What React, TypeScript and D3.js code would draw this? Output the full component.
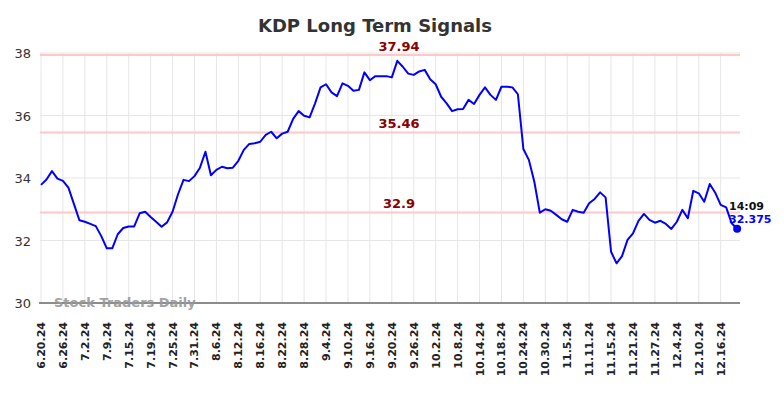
import React from "react";
import * as d3 from "d3";

// closing prices, one per trading day from 6.20.24
const prices = [
  33.78, 33.95, 34.22, 33.98, 33.91, 33.69, 33.17, 32.65, 32.6, 32.53,
  32.46, 32.14, 31.75, 31.75, 32.2, 32.4, 32.45, 32.45, 32.87, 32.92,
  32.75, 32.6, 32.44, 32.58, 32.92, 33.48, 33.94, 33.9, 34.06, 34.33,
  34.84, 34.09, 34.26, 34.36, 34.31, 34.33, 34.55, 34.9, 35.09, 35.11,
  35.16, 35.38, 35.48, 35.27, 35.42, 35.48, 35.89, 36.14, 35.99, 35.94,
  36.39, 36.9, 37.0, 36.74, 36.62, 37.03, 36.95, 36.79, 36.82, 37.38,
  37.13, 37.26, 37.26, 37.26, 37.22, 37.75, 37.56, 37.34, 37.3, 37.41,
  37.46, 37.16, 37.0, 36.6, 36.39, 36.14, 36.2, 36.21, 36.5, 36.37,
  36.66, 36.9, 36.66, 36.5, 36.92, 36.92, 36.9, 36.68, 34.93, 34.58,
  33.88, 32.89, 33.0, 32.95, 32.82, 32.68, 32.6, 32.98, 32.92, 32.89,
  33.19, 33.33, 33.54, 33.38, 31.64, 31.27, 31.5, 32.02, 32.23, 32.63,
  32.85, 32.66, 32.57, 32.63, 32.53, 32.37, 32.6, 32.98, 32.71, 33.59,
  33.51, 33.24, 33.81, 33.53, 33.14, 33.06, 32.55, 32.375,
];

// one label every 4 trading days
const tickLabels = [
  "6.20.24", "6.26.24", "7.2.24", "7.9.24", "7.15.24", "7.19.24", "7.25.24",
  "7.31.24", "8.6.24", "8.12.24", "8.16.24", "8.22.24", "8.28.24", "9.4.24",
  "9.10.24", "9.16.24", "9.20.24", "9.26.24", "10.2.24", "10.8.24",
  "10.14.24", "10.18.24", "10.24.24", "10.30.24", "11.5.24", "11.11.24",
  "11.15.24", "11.21.24", "11.27.24", "12.4.24", "12.10.24", "12.16.24",
];
const tickStep = 4;

const signals = [37.94, 35.46, 32.9];
const yTicks = [30, 32, 34, 36, 38];
const lastTime = "14:09";

const W = 784,
  H = 398;
const margin = { top: 53, right: 44, bottom: 95, left: 40 };
const font = "DejaVu Sans, sans-serif";

export default function App() {
  const x = d3
    .scaleLinear()
    .domain([0, tickLabels.length * tickStep - tickStep])
    .range([41, 720.7]);
  const y = d3
    .scaleLinear()
    .domain([30, 38])
    .range([H - margin.bottom, margin.top]);

  const line = d3
    .line<number>()
    .x((d, i) => x(i))
    .y((d) => y(d));

  const last = prices.length - 1;
  const x0 = margin.left;
  const x1 = W - margin.right;

  return (
    <svg
      width={W}
      height={H}
      style={{ position: "absolute", left: 0, top: 0, background: "#fff" }}
      fontFamily={font}
    >
      <text x={375} y={32} textAnchor="middle" fontSize={18} fontWeight="bold" fill="#333">
        KDP Long Term Signals
      </text>

      {yTicks.map((t) => (
        <g key={t}>
          {t > 30 && (
            <line x1={x0} x2={x1} y1={y(t)} y2={y(t)} stroke="#e6e6e6" strokeWidth={1} />
          )}
          <text x={31} y={y(t) + 5} textAnchor="end" fontSize={13} fill="#333">
            {t}
          </text>
        </g>
      ))}

      {tickLabels.map((lab, k) => {
        const xi = x(k * tickStep);
        return (
          <g key={lab}>
            <line x1={xi} x2={xi} y1={margin.top} y2={y(30)} stroke="#e6e6e6" strokeWidth={1} />
            <text
              transform={`translate(${xi + 4},${y(30) + 19}) rotate(-90)`}
              textAnchor="end"
              fontSize={11}
              fontWeight="bold"
              fill="#222"
            >
              {lab}
            </text>
          </g>
        );
      })}

      {signals.map((s) => (
        <g key={s}>
          <line x1={x0} x2={x1} y1={y(s)} y2={y(s)} stroke="#ffc8c8" strokeWidth={2} />
          <text x={399} y={y(s) - 4} textAnchor="middle" fontSize={13} fontWeight="bold" fill="#8b0000">
            {s}
          </text>
        </g>
      ))}

      <line x1={x0 - 1} x2={x1} y1={y(30)} y2={y(30)} stroke="#666" strokeWidth={1.5} />

      <text x={54} y={307} fontSize={13} fontWeight="bold" fill="#999" opacity={0.9}>
        Stock Traders Daily
      </text>

      <path d={line(prices) || ""} fill="none" stroke="#0000ff" strokeWidth={2} strokeLinejoin="round" />

      <circle cx={x(last)} cy={y(prices[last])} r={4} fill="#0000ff" />
      <text x={729} y={210} fontSize={11} fontWeight="bold" fill="#111">
        {lastTime}
      </text>
      <text x={729} y={223} fontSize={11} fontWeight="bold" fill="#0000ff">
        {prices[last]}
      </text>
    </svg>
  );
}
